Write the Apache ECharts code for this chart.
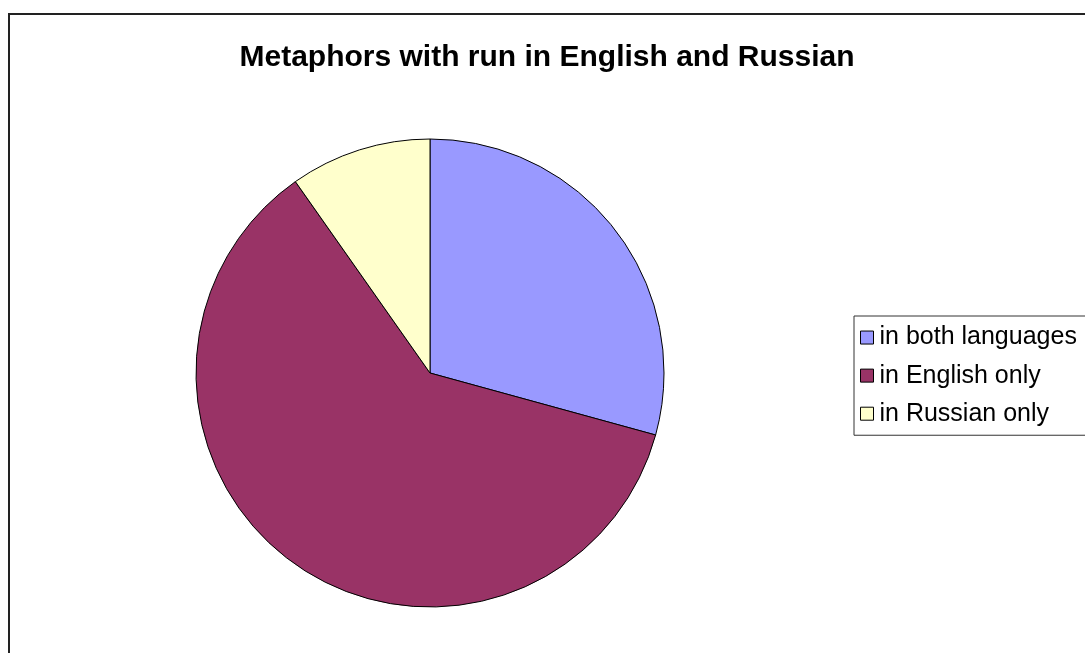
<!DOCTYPE html>
<html lang="en">

<head>
  <script src="https://cdn.jsdelivr.net/npm/echarts@6.0.0/dist/echarts.min.js"></script>
</head>

<body style="margin:0;">
  <div id="runChart" style="width: 1085px;height:653px;"></div>

  <script type="text/javascript">

    var categories = ['in both languages', 'in English only', 'in Russian only'];
    var counts = [12, 25, 4];
    var colors = ['#9999FF', '#993366', '#FFFFCC'];

    function createRunChart() {
        const chart = echarts.init(document.getElementById('runChart'));

        let option = {
            backgroundColor: '#fff',
            color: colors,
            title: {
                text: 'Metaphors with run in English and Russian',
                left: 542,
                top: 27,
                textAlign: 'center',
                textStyle: {
                    fontFamily: 'Liberation Sans',
                    fontSize: 30,
                    fontWeight: 'bold',
                    color: '#000'
                }
            },
            graphic: [{
                type: 'rect',
                shape: {x: 9, y: 14, width: 1100, height: 700},
                style: {fill: 'none', stroke: '#222', lineWidth: 2},
                silent: true,
                z: -1
            }],
            legend: {
                orient: 'vertical',
                left: 854,
                top: 316,
                padding: [0, 20, 0, 6],
                borderColor: '#333',
                borderWidth: 1,
                itemWidth: 13,
                itemHeight: 13,
                itemGap: -5,
                icon: 'rect',
                itemStyle: {borderColor: '#000', borderWidth: 1},
                textStyle: {
                    fontFamily: 'Liberation Sans',
                    fontSize: 25,
                    lineHeight: 25,
                    color: '#000',
                    padding: [0, 0, 0, 1]
                },
                data: categories
            },
            series: [{
                type: 'pie',
                center: [430, 373],
                radius: 234,
                startAngle: 90,
                clockwise: true,
                label: {show: false},
                labelLine: {show: false},
                emphasis: {disabled: true},
                itemStyle: {borderColor: '#000', borderWidth: 1},
                data: categories.map(function (name, i) {
                    return {name: name, value: counts[i]};
                })
            }]
        };

        chart.setOption(option);
    }
    createRunChart();
  </script>
</body>

</html>
